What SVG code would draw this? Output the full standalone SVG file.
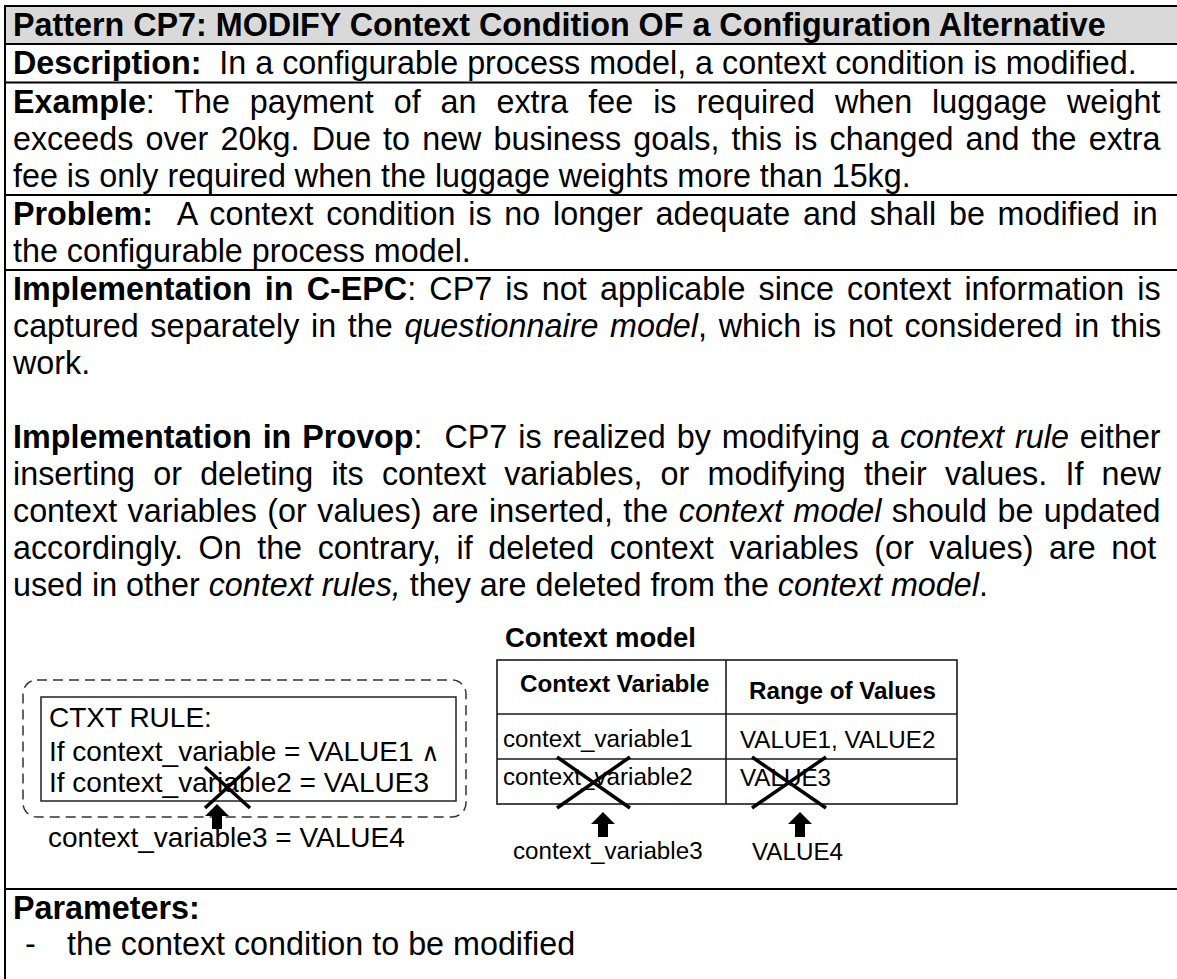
<svg xmlns="http://www.w3.org/2000/svg" width="1177" height="979" viewBox="0 0 1177 979">
<style>
text{font-family:"Liberation Sans",Arial,sans-serif;fill:#000}
.m{font-size:32.3px}
.b{font-weight:bold}
.i{font-style:italic}
.s{font-size:24.2px}
.k{font-size:28px}
.and{font-family:"DejaVu Sans","Liberation Sans",sans-serif;font-size:25px}
.cm{font-size:27.5px;font-weight:bold}
.rule{fill:none;stroke:#000;stroke-width:2}
.tbl{fill:none;stroke:#1a1a1a;stroke-width:1.6}
.x{stroke:#000;stroke-width:3.5}
.arr{fill:#000}
.dash{fill:none;stroke:#333;stroke-width:1.5;stroke-dasharray:10 6}
.box{fill:none;stroke:#222;stroke-width:1.5}
</style>
<defs>
<path id="up" d="M0,0 L12,12 L5,12 L5,25 L-5,25 L-5,12 L-12,12 Z"/>
</defs>
<rect width="1177" height="979" fill="#fff"/>
<g id="frame">
<rect x="5" y="7" width="1172" height="37" fill="#d9d9d9"/>
<line class="rule" x1="5" y1="6" x2="5" y2="979"/>
<line class="rule" x1="4" y1="6" x2="1177" y2="6"/>
<line class="rule" x1="4" y1="44" x2="1177" y2="44"/>
<line class="rule" x1="4" y1="82.5" x2="1177" y2="82.5"/>
<line class="rule" x1="4" y1="195" x2="1177" y2="195"/>
<line class="rule" x1="4" y1="270" x2="1177" y2="270"/>
<line class="rule" x1="4" y1="889" x2="1177" y2="889"/>
</g>
<g id="title">
<text class="m b" x="13" y="36">Pattern CP7: MODIFY Context Condition OF a Configuration Alternative</text>
</g>
<g id="description">
<text class="m" x="13" y="74" xml:space="preserve"><tspan class="b">Description:</tspan>  In a configurable process model, a context condition is modified.</text>
</g>
<g id="example">
<text class="m" x="13" y="113" word-spacing="11"><tspan class="b">Example</tspan>: The payment of an extra fee is required when luggage weight</text>
<text class="m" x="13" y="150" word-spacing="3.2">exceeds over 20kg. Due to new business goals, this is changed and the extra</text>
<text class="m" x="13" y="187">fee is only required when the luggage weights more than 15kg.</text>
</g>
<g id="problem">
<text class="m" x="13" y="225" word-spacing="3.8" xml:space="preserve"><tspan class="b">Problem:</tspan>  A context condition is no longer adequate and shall be modified in</text>
<text class="m" x="13" y="262">the configurable process model.</text>
</g>
<g id="implementation">
<text class="m" x="13" y="300" word-spacing="4.2"><tspan class="b">Implementation in C-EPC</tspan>: CP7 is not applicable since context information is</text>
<text class="m" x="13" y="337" word-spacing="2.7">captured separately in the <tspan class="i">questionnaire model</tspan>, which is not considered in this</text>
<text class="m" x="13" y="374">work.</text>
<text class="m" x="13" y="448" word-spacing="2" xml:space="preserve"><tspan class="b">Implementation in Provop</tspan>:  CP7 is realized by modifying a <tspan class="i">context rule</tspan> either</text>
<text class="m" x="13" y="485" word-spacing="9.2">inserting or deleting its context variables, or modifying their values. If new</text>
<text class="m" x="13" y="522" word-spacing="1.5">context variables (or values) are inserted, the <tspan class="i">context model</tspan> should be updated</text>
<text class="m" x="13" y="559" word-spacing="6.6">accordingly. On the contrary, if deleted context variables (or values) are not</text>
<text class="m" x="13" y="596" xml:space="preserve">used in other <tspan class="i">context rules,</tspan> they are deleted from the <tspan class="i">context model</tspan>.</text>
</g>
<g id="ctxt-rule">
<rect class="dash" x="23" y="680" width="443" height="137" rx="14"/>
<rect class="box" x="41" y="697" width="415" height="104"/>
<text class="k" x="49" y="727">CTXT RULE:</text>
<text class="k" x="49" y="761">If context_variable = VALUE1 <tspan class="and">∧</tspan></text>
<text class="k" x="49" y="792">If context_variable2 = VALUE3</text>
<line class="x" x1="205" y1="767" x2="250" y2="808"/>
<line class="x" x1="250" y1="767" x2="205" y2="808"/>
<text class="k" x="48" y="847">context_variable3 = VALUE4</text>
</g>
<g id="context-model">
<text class="cm" x="505" y="647">Context model</text>
<rect class="tbl" x="497" y="660" width="460" height="144"/>
<line class="tbl" x1="726" y1="660" x2="726" y2="804"/>
<line class="tbl" x1="497" y1="714" x2="957" y2="714"/>
<line class="tbl" x1="497" y1="759" x2="957" y2="759"/>
<text class="s b" x="520" y="692">Context Variable</text>
<text class="s b" x="749" y="699">Range of Values</text>
<text class="s" x="503" y="747">context_variable1</text>
<text class="s" x="740" y="748">VALUE1, VALUE2</text>
<text class="s" x="503" y="785">context_variable2</text>
<text class="s" x="740" y="786">VALUE3</text>
<line class="x" x1="557" y1="757" x2="630" y2="808"/>
<line class="x" x1="630" y1="757" x2="557" y2="808"/>
<line class="x" x1="752" y1="757" x2="826" y2="808"/>
<line class="x" x1="826" y1="757" x2="752" y2="808"/>
<text class="s" x="513" y="859">context_variable3</text>
<text class="s" x="752" y="860">VALUE4</text>
</g>
<g id="connectors">
<use href="#up" class="arr" x="217" y="804"/>
<use href="#up" class="arr" x="603" y="812"/>
<use href="#up" class="arr" x="800" y="812"/>
</g>
<g id="parameters">
<text class="m b" x="13" y="919">Parameters:</text>
<text class="m" x="25" y="955">-</text>
<text class="m" x="67" y="955">the context condition to be modified</text>
</g>
</svg>
